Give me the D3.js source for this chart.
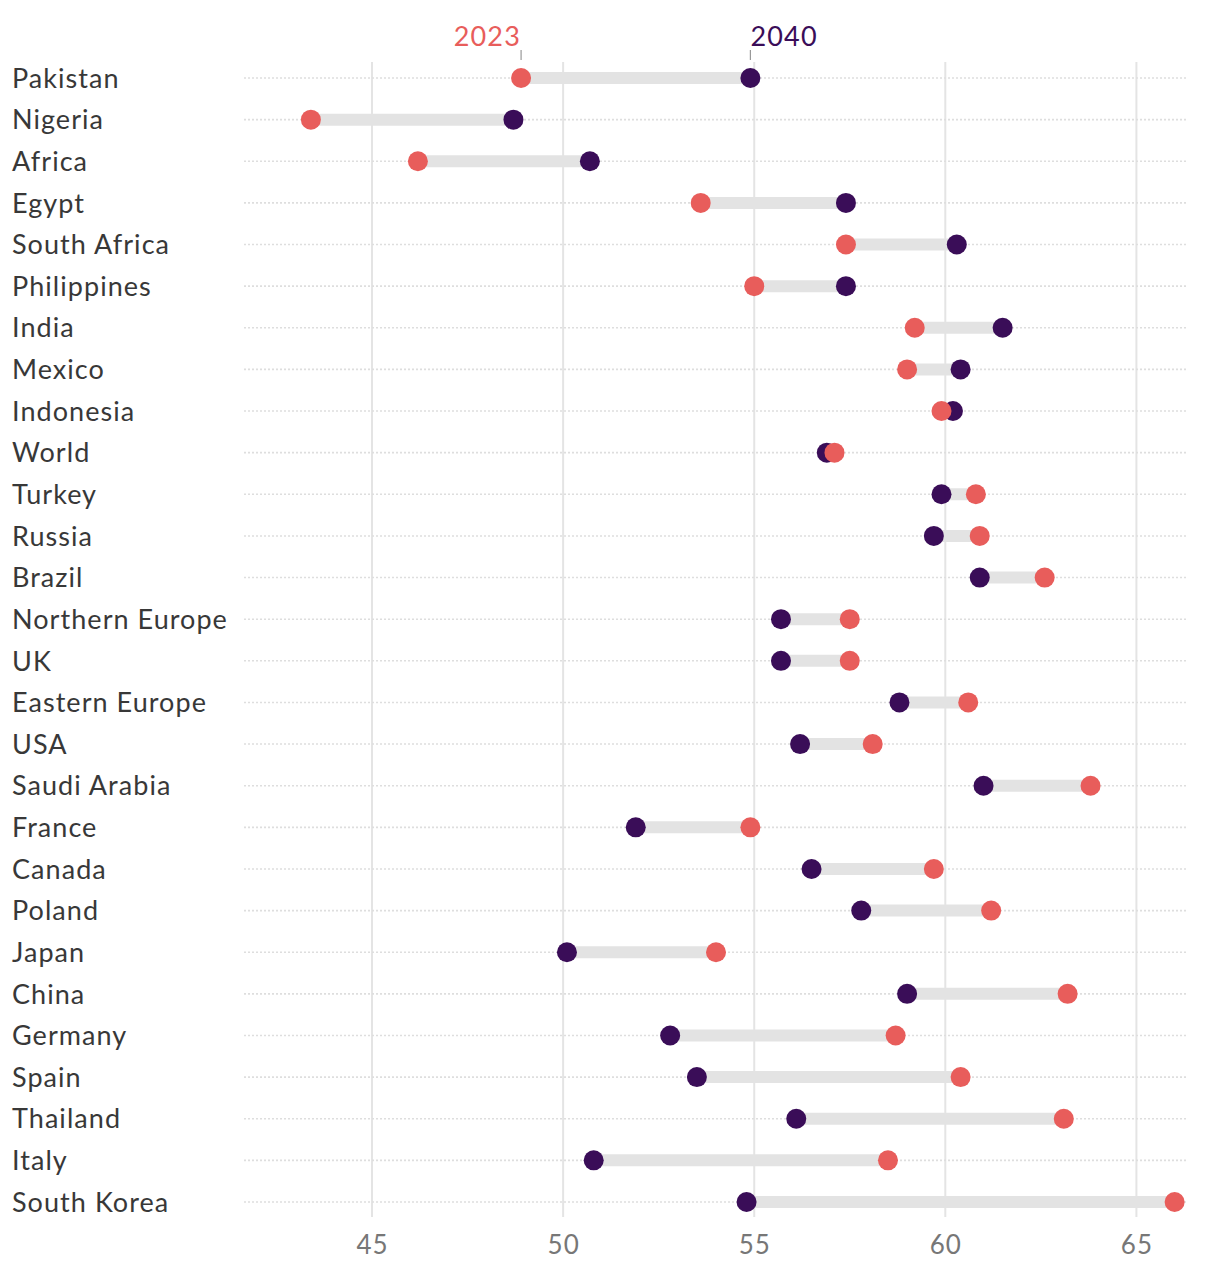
<!DOCTYPE html>
<html><head><meta charset="utf-8">
<script src="https://cdn.jsdelivr.net/npm/d3@7"></script>
<style>
html,body{margin:0;padding:0;background:#fff;}
svg{display:block;font-family:Lato, "Open Sans", sans-serif;}
</style></head>
<body>
<svg id="chart" width="1220" height="1270"></svg>
<script>
const countries = ["Pakistan","Nigeria","Africa","Egypt","South Africa","Philippines","India","Mexico","Indonesia","World","Turkey","Russia","Brazil","Northern Europe","UK","Eastern Europe","USA","Saudi Arabia","France","Canada","Poland","Japan","China","Germany","Spain","Thailand","Italy","South Korea"];
const values2023 = [48.9,43.4,46.2,53.6,57.4,55.0,59.2,59.0,59.9,57.1,60.8,60.9,62.6,57.5,57.5,60.6,58.1,63.8,54.9,59.7,61.2,54.0,63.2,58.7,60.4,63.1,58.5,66.0];
const values2040 = [54.9,48.7,50.7,57.4,60.3,57.4,61.5,60.4,60.2,56.9,59.9,59.7,60.9,55.7,55.7,58.8,56.2,61.0,51.9,56.5,57.8,50.1,59.0,52.8,53.5,56.1,50.8,54.8];
const xTicks = [45,50,55,60,65];
const seriesLabels = ["2023","2040"];

const W = 1220, H = 1270;
const margin = {top:78, right:32, bottom:68, left:244};
const svg = d3.select("#chart");

const x = d3.scaleLinear().domain([41.65, 66.35]).range([margin.left, W - margin.right]);
const y = d3.scalePoint().domain(countries).range([margin.top, H - margin.bottom]);

const red = "#e85d5b", purple = "#3a0d58";

// vertical gridlines
svg.append("g").selectAll("line").data(xTicks).join("line")
  .attr("x1", d=>x(d)).attr("x2", d=>x(d))
  .attr("y1", 62).attr("y2", 1217)
  .attr("stroke", "#e4e4e4").attr("stroke-width", 2);

// tick labels via axis
const axis = svg.append("g").attr("transform", `translate(0,${1235})`)
  .call(d3.axisBottom(x).tickValues(xTicks).tickSize(0).tickPadding(0));
axis.select(".domain").remove();
axis.selectAll("text").attr("font-size", 26).attr("fill", "#777")
  .attr("font-family", "Lato, sans-serif").attr("font-weight", 400)
  .attr("letter-spacing", 1).attr("dy", "0.72em");

// horizontal dotted lines
svg.append("g").selectAll("line").data(countries).join("line")
  .attr("x1", margin.left).attr("x2", W - margin.right)
  .attr("y1", d=>y(d)).attr("y2", d=>y(d))
  .attr("stroke", "#dedede").attr("stroke-width", 1.6).attr("stroke-dasharray", "2,2");

// country labels
svg.append("g").selectAll("text").data(countries).join("text")
  .attr("x", 12).attr("y", d=>y(d)).attr("dy", "0.36em")
  .attr("font-size", 27).attr("font-weight", 400).attr("letter-spacing", 1.05)
  .attr("fill", "#383838").text(d=>d);

const rows = countries.map((c,i)=>({c, a:values2023[i], b:values2040[i]}));

// connecting bars
svg.append("g").selectAll("line").data(rows).join("line")
  .attr("x1", d=>x(Math.min(d.a,d.b))).attr("x2", d=>x(Math.max(d.a,d.b)))
  .attr("y1", d=>y(d.c)).attr("y2", d=>y(d.c))
  .attr("stroke", "#e3e3e3").attr("stroke-width", 12);

// 2040 dots
svg.append("g").selectAll("circle").data(rows).join("circle")
  .attr("cx", d=>x(d.b)).attr("cy", d=>y(d.c)).attr("r", 10).attr("fill", purple);
// 2023 dots
svg.append("g").selectAll("circle").data(rows).join("circle")
  .attr("cx", d=>x(d.a)).attr("cy", d=>y(d.c)).attr("r", 10).attr("fill", red);

// series annotations on first row
const first = rows[0];
const ann = [
  {label: seriesLabels[0], v: first.a, color: red, anchor: "end"},
  {label: seriesLabels[1], v: first.b, color: purple, anchor: "start"}
];
const ag = svg.append("g");
ag.selectAll("line").data(ann).join("line")
  .attr("x1", d=>x(d.v)).attr("x2", d=>x(d.v)).attr("y1", 50).attr("y2", 60)
  .attr("stroke", "#999").attr("stroke-width", 1.2);
ag.selectAll("text").data(ann).join("text")
  .attr("x", d=>x(d.v)).attr("y", 46).attr("text-anchor", d=>d.anchor)
  .attr("font-size", 27).attr("font-weight", 400).attr("letter-spacing", 1.2)
  .attr("fill", d=>d.color).text(d=>d.label);
</script>
</body></html>
